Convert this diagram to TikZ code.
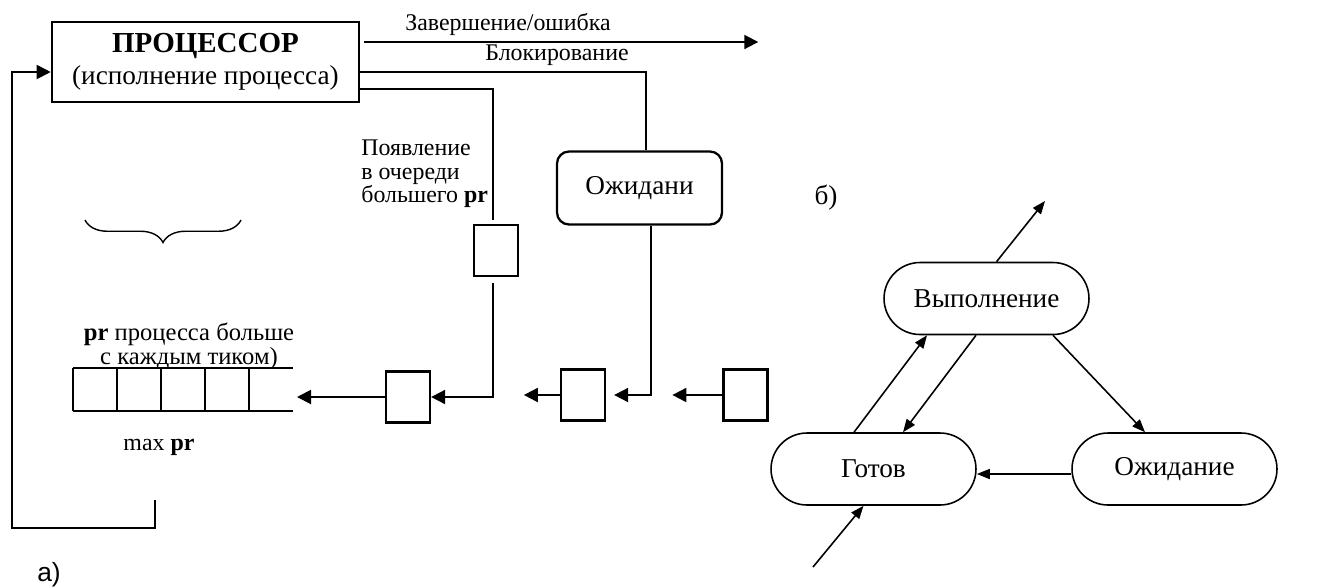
\documentclass[tikz,border=0pt]{standalone}
\usepackage{fontspec}
\setmainfont{Liberation Serif}
\newfontfamily\labelsans{Liberation Sans}
\usetikzlibrary{positioning,arrows.meta,calc,decorations.pathreplacing}
\newcommand{\mainsz}{\fontsize{15.5}{18}\selectfont}
\newcommand{\notesz}{\fontsize{13.6}{13.4}\selectfont}
\tikzset{
  cpu/.style={draw, line width=1.5pt, minimum width=6.14cm, minimum height=1.6cm,
              align=center, inner sep=0pt, font=\mainsz},
  slot/.style={draw, line width=1.3pt, minimum width=0.88cm, minimum height=1.02cm, inner sep=0pt},
  waitbox/.style={draw, line width=1.3pt, rounded corners=0.24cm, minimum width=3.3cm,
                  minimum height=1.46cm, font=\mainsz},
  state/.style={draw, line width=0.9pt, rounded corners=0.72cm, minimum width=4.1cm,
                minimum height=1.44cm, font=\mainsz},
  wire/.style={line width=1.1pt},
  flow/.style={wire, -{Triangle[length=0.28cm, width=0.28cm]}},
  trans/.style={line width=0.9pt, -{Triangle[length=0.26cm, width=0.2cm]}},
  note/.style={font=\notesz, inner sep=0pt},
  cellline/.style={line width=1.3pt}
}

\begin{document}
\begin{tikzpicture}[x=0.02cm, y=-0.02cm]
\useasboundingbox (0,0) rectangle (1328,586);
% processor and its exits
\node[cpu] (cpu) at (205.5,62) {{\fontsize{16.5}{19}\selectfont\bfseries ПРОЦЕССОР}\\(исполнение процесса)};
\draw[flow] ($(cpu.east)+(4,-20)$) -- ++(394,0);
\node[note] (donelbl) at (508,24) {Завершение/ошибка};
\node[note] (blocklbl) at (557,55) {Блокирование};
\node[waitbox] (wait) at (639.5,188) {Ожидани};
\draw[wire] ($(cpu.east)+(0,10)$) -| ($(wait.north)+(6.5,0)$);
% arrival of a higher pr
\node[slot] (q0) at (496,250.5) {};
\node[note, align=left, anchor=west] (arrlbl) at (361,174) {Появление\\в очереди\\большего \textbf{pr}};
\draw[wire, shorten >=0.08cm] ($(cpu.east)+(0,27)$) -| ($(q0.north)+(-3,0)$);
% bottom row
\node[slot] (qa) at (408,397) {};
\node[slot] (qb) at (583,395) {};
\node[slot] (qc) at (745.5,395) {};
\draw[flow, shorten <=0.12cm] ($(q0.south)+(-3,0)$) |- (qa.east);
\draw[flow] ($(wait.south)+(11.5,0)$) |- ($(qb.east)+(8,0)$);
\draw[flow] (qb.west) -- ++(-36,0);
\draw[flow] (qc.west) -- ++(-50,0);
% queue
\foreach \i in {0,...,4}
  \draw[cellline] (73+44*\i,368) -- (73+44*\i,411);
\draw[cellline] (73,368) -- (293,368) (73,411) -- (293,411);
\coordinate (qin) at (297,397);
\draw[flow] (qa.west) -- (qin);
\coordinate (qout) at (155,500);
\coordinate (loop) at (12,528);
\draw[flow] (qout) |- (loop) |- ($(cpu.west)+(0,10)$);
\node[font=\fontsize{14}{10}\selectfont, align=center, inner sep=0pt] (risetxt) at (189,346) {\textbf{pr} процесса больше\\с каждым тиком)};
\draw[decorate, decoration={brace, amplitude=0.45cm}, line width=0.8pt] (241,220) -- (85,220);
\node[note] (maxlbl) at (159,447) {max \textbf{pr}};
\node[font=\labelsans\fontsize{15}{18}\selectfont] (parta) at (49,575) {а)};
\node[font=\mainsz] (partb) at (826,198) {б)};
% states
\node[state] (run) at (986.5,298.5) {Выполнение};
\node[state] (rdy) at (873.5,469) {Готов};
\node[state] (wt) at (1174.5,469) {Ожидание};
\coordinate (runout) at (1045,201);
\coordinate (rdyin) at (813,567);
\draw[trans] ($(run.north)+(10,0)$) -- (runout);
\draw[trans] (rdyin) -- ($(rdy.south)+(-10,0)$);
\draw[trans] ($(rdy.north)+(-19.5,0)$) -- ($(run.south)+(-59.5,0)$);
\draw[trans] ($(run.south)+(-10.5,0)$) -- ($(rdy.north)+(29.5,0)$);
\draw[trans] ($(run.south)+(66.5,0)$) -- ($(wt.north)+(-29.5,0)$);
\draw[trans] ($(wt.west)+(0,5)$) -- ($(rdy.east)+(0,5)$);
\end{tikzpicture}
\end{document}
